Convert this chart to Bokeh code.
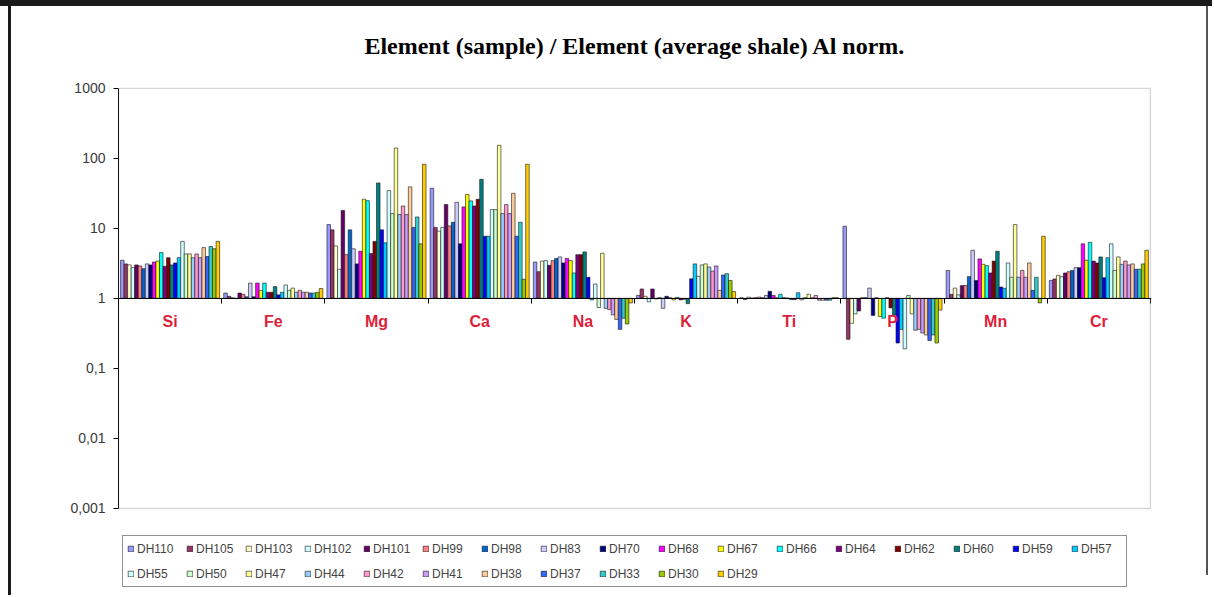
import numpy as np
from bokeh.plotting import figure
from bokeh.models import (ColumnDataSource, Legend, LegendItem, LinearAxis, FixedTicker,
                          CustomJSTickFormatter, Range1d, BoxAnnotation)
from bokeh.embed import file_html
from bokeh.resources import INLINE

elements = ["Si", "Fe", "Mg", "Ca", "Na", "K", "Ti", "P", "Mn", "Cr"]
series = ["DH110", "DH105", "DH103", "DH102", "DH101", "DH99", "DH98", "DH83", "DH70",
          "DH68", "DH67", "DH66", "DH64", "DH62", "DH60", "DH59", "DH57", "DH55", "DH50",
          "DH47", "DH44", "DH42", "DH41", "DH38", "DH37", "DH33", "DH30", "DH29"]
colors = ["#9999FF", "#993366", "#FFFFCC", "#CCFFFF", "#660066", "#FF8080", "#0066CC",
          "#CCCCFF", "#000080", "#FF00FF", "#FFFF00", "#00FFFF", "#800080", "#800000",
          "#008080", "#0000FF", "#00CCFF", "#CCFFFF", "#CCFFCC", "#FFFF99", "#99CCFF",
          "#FF99CC", "#CC99FF", "#FFCC99", "#3366FF", "#33CCCC", "#99CC00", "#FFCC00"]

# values per element, in the order of `series`
si = [3.5, 3.1, 3.0, 2.75, 3.0, 2.9, 2.65, 3.1, 3.0, 3.3, 3.4, 4.5, 2.87, 3.8, 3.0, 3.2,
      3.8, 6.5, 4.3, 4.3, 3.8, 4.3, 3.8, 5.3, 3.95, 5.5, 5.1, 6.5]
fe = [1.19, 1.07, 1.02, 0.99, 1.19, 1.14, 1.05, 1.65, 1.05, 1.65, 1.3, 1.65, 1.22, 1.22,
      1.47, 1.12, 1.22, 1.55, 1.3, 1.4, 1.22, 1.3, 1.22, 1.22, 1.19, 1.19, 1.22, 1.38]
mg = [11.3, 9.5, 5.6, 2.6, 17.9, 4.2, 9.5, 5.1, 3.1, 4.7, 26.0, 24.8, 4.35, 6.5, 44.4,
      9.5, 6.2, 34.5, 16.2, 140.0, 15.7, 20.8, 15.7, 39.0, 10.3, 14.5, 6.0, 82.0]
ca = [37.3, 10.3, 9.1, 10.3, 21.8, 10.8, 12.2, 23.5, 6.0, 20.2, 30.3, 24.6, 20.8, 26.0,
      50.0, 7.7, 7.7, 18.5, 18.5, 153.0, 16.2, 21.8, 16.2, 31.6, 7.7, 12.2, 1.87, 82.0]
na = [3.3, 2.4, 3.4, 3.45, 2.96, 3.45, 3.7, 3.9, 3.2, 3.7, 3.45, 2.3, 4.2, 4.2, 4.6, 2.0,
      0.95, 1.6, 0.74, 4.4, 0.72, 0.69, 0.58, 0.5, 0.36, 0.52, 0.43, 0.86]
k = [1.1, 1.36, 1.07, 0.89, 1.36, 0.98, 1.02, 0.72, 1.07, 1.02, 0.95, 1.03, 0.95, 0.97,
     0.84, 1.9, 3.1, 2.06, 3.0, 3.1, 2.8, 2.45, 2.9, 1.3, 2.15, 2.25, 1.8, 1.25]
ti = [1.02, 0.96, 1.04, 1.01, 1.02, 1.04, 1.02, 1.1, 1.26, 1.1, 1.02, 1.14, 1.02, 1.01,
      0.96, 0.96, 1.2, 0.95, 1.02, 1.14, 1.02, 1.1, 0.94, 0.94, 0.94, 0.94, 1.02, 1.02]
p_ = [10.7, 0.26, 0.44, 0.6, 0.66, 1.02, 1.02, 1.4, 0.57, 1.02, 0.55, 0.52, 1.02, 0.73,
      0.58, 0.23, 0.36, 0.19, 1.1, 0.6, 0.35, 0.36, 0.32, 0.3, 0.25, 0.3, 0.23, 0.68]
mn = [2.5, 1.14, 1.4, 1.12, 1.52, 1.52, 2.04, 4.86, 1.8, 3.65, 3.06, 2.93, 2.3, 3.4, 4.7,
      1.45, 1.39, 3.2, 2.0, 11.3, 2.0, 2.5, 2.0, 3.2, 1.3, 2.0, 0.86, 7.7]
cr = [1.8, 1.89, 2.13, 2.04, 2.3, 2.4, 2.5, 2.74, 2.74, 6.0, 3.5, 6.3, 3.4, 3.2, 3.9, 1.97,
      3.8, 6.0, 2.5, 3.9, 3.06, 3.4, 3.0, 3.1, 2.6, 2.6, 3.1, 4.86]

by_element = [si, fe, mg, ca, na, k, ti, p_, mn, cr]
y_ticks = [0.001, 0.01, 0.1, 1, 10, 100, 1000]
y_min, y_max = 0.001, 1000
baseline = 1.0
# lower end of the frame reaches below the axis so the legend fits underneath it
y_frame_low = 10 ** -4.2
# upper end slightly above 1000 so the plot-area border line is not clipped
y_frame_high = 10 ** 3.01

p = figure(width=1212, height=595, output_backend="svg", toolbar_location=None,
           x_range=Range1d(0, len(elements) * 1.001), y_range=Range1d(y_frame_low, y_frame_high),
           y_axis_type="log", x_axis_location=None,
           min_border_left=118, min_border_right=61, min_border_top=87,
           min_border_bottom=3,
           title="Element (sample) / Element (average shale) Al norm.")
p.styles = {"background": "linear-gradient(#1a1a1a, #1a1a1a) 0 0 / 100% 6px no-repeat, "
                          "linear-gradient(#1a1a1a, #1a1a1a) 8px 0 / 3px 100% no-repeat, "
                          "linear-gradient(#555555, #555555) 1206px 0 / 2px 575px no-repeat, "
                          "#ffffff"}
p.background_fill_color = None
p.border_fill_color = None
p.outline_line_color = None
p.xgrid.visible = False
p.ygrid.visible = False

p.title.text_font = "Liberation Serif"
p.title.text_font_size = "24px"
p.title.text_font_style = "bold"
p.title.align = "center"
p.title.text_color = "#000000"
p.title.standoff = 57

# plot-area border (Excel style grey box)
p.add_layout(BoxAnnotation(left=0, right=len(elements), bottom=y_min, top=y_max,
                           fill_color=None, line_color="#7a7a7a", line_width=1.5))

n = len(series)
bw = 0.96 / n
centers = np.arange(len(elements)) + 0.5
items = []
for j, name in enumerate(series):
    vals = [vals_el[j] for vals_el in by_element]
    src = ColumnDataSource(dict(x=centers + (j - (n - 1) / 2) * bw, top=vals))
    r = p.vbar(x="x", top="top", bottom=baseline, width=bw, source=src,
               fill_color=colors[j], line_color="#151515", line_width=0.6)
    items.append(LegendItem(label=name, renderers=[r]))

ya = p.yaxis[0]
ya.bounds = (y_min, y_max)
ya.ticker = FixedTicker(ticks=y_ticks)
ya.formatter = CustomJSTickFormatter(
    code="return tick >= 1 ? tick.toFixed(0) : String(tick).replace('.', ',');")
ya.major_tick_out = 5
ya.major_tick_in = 0
ya.minor_tick_out = 0
ya.minor_tick_in = 0
ya.axis_line_color = "#000000"
ya.major_tick_line_color = "#000000"
ya.major_label_text_font = "Liberation Sans"
ya.major_label_text_font_size = "14px"
ya.major_label_text_color = "#3a3a3a"
ya.major_label_standoff = 8

bax = LinearAxis(fixed_location=baseline, ticker=FixedTicker(ticks=list(range(len(elements) + 1))),
                 formatter=CustomJSTickFormatter(code="return '';"),
                 major_tick_out=5, major_tick_in=0, minor_tick_out=0, minor_tick_in=0,
                 axis_line_color="#000000", major_tick_line_color="#000000")
p.add_layout(bax, "below")

lax = LinearAxis(fixed_location=baseline, ticker=FixedTicker(ticks=list(centers)),
                 formatter=CustomJSTickFormatter(args=dict(names=elements),
                                                 code="return names[Math.floor(tick)];"),
                 major_tick_out=0, major_tick_in=0, minor_tick_out=0, minor_tick_in=0,
                 axis_line_color=None, major_tick_line_color=None,
                 major_label_standoff=15, major_label_text_color="#DD1E3A",
                 major_label_text_font="Liberation Sans", major_label_text_font_style="bold",
                 major_label_text_font_size="16px")
p.add_layout(lax, "below")

legend = Legend(items=items, orientation="horizontal", ncols=17, location=(4, 5),
                margin=0, padding=4, spacing=8, glyph_width=7, glyph_height=7,
                label_standoff=3, label_width=41, label_height=17,
                label_text_font="Liberation Sans", label_text_font_size="12px",
                label_text_color="#444444", border_line_color="#222222",
                border_line_width=1, background_fill_color="white")
p.add_layout(legend)

open("out.html", "w").write(file_html(p, INLINE))
